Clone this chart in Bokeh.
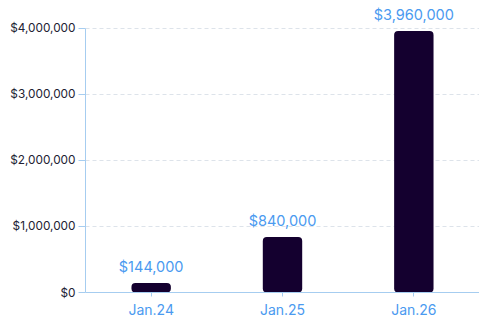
from bokeh.plotting import figure
from bokeh.models import ColumnDataSource, FixedTicker, NumeralTickFormatter, Range1d, FactorRange
from bokeh.core.properties import value
from bokeh.embed import file_html
from bokeh.resources import INLINE

categories = ["Jan.24", "Jan.25", "Jan.26"]
values = [144000, 840000, 3960000]
labels = ["$144,000", "$840,000", "$3,960,000"]
y_ticks = [0, 1000000, 2000000, 3000000, 4000000]

src = ColumnDataSource(dict(cat=categories, val=values, lab=labels))

p = figure(x_range=FactorRange(*categories, range_padding=0), y_range=Range1d(0, 4420000),
           width=479, height=322, output_backend="svg", toolbar_location=None,
           min_border_left=85, min_border_right=0, min_border_top=0, min_border_bottom=30)
p.outline_line_color = None

p.vbar(x="cat", top="val", width=0.30, source=src, fill_color="#14002f",
       line_color=None, border_radius=4)
p.text(x="cat", y="val", text="lab", source=src, text_align="center",
       text_baseline="bottom", y_offset=-8, text_color="#4a9af0",
       text_font=value("Inter"), text_font_size="14.5px")

axis_col = "#a6cdf0"
p.yaxis.ticker = FixedTicker(ticks=y_ticks)
p.yaxis.bounds = (0, 4000000)
p.yaxis.formatter = NumeralTickFormatter(format="$0,0")
p.yaxis.axis_line_color = axis_col
p.yaxis.major_tick_line_color = axis_col
p.yaxis.major_tick_out = 7
p.yaxis.major_tick_in = 0
p.yaxis.minor_tick_line_color = None
p.yaxis.major_label_text_font = "Inter"
p.yaxis.major_label_text_font_size = "11.8px"
p.yaxis.major_label_text_color = "#222233"
p.yaxis.major_label_standoff = 3

p.xaxis.axis_line_color = axis_col
p.xaxis.major_tick_line_color = axis_col
p.xaxis.major_tick_out = 4
p.xaxis.major_tick_in = 0
p.xaxis.major_label_text_font = "Inter"
p.xaxis.major_label_text_font_size = "14px"
p.xaxis.major_label_text_color = "#4a9af0"
p.xaxis.major_label_standoff = 4

p.xgrid.grid_line_color = None
p.ygrid.grid_line_color = "#dde3ea"
p.ygrid.grid_line_dash = "4 3"

open("out.html", "w").write(file_html(p, INLINE))
